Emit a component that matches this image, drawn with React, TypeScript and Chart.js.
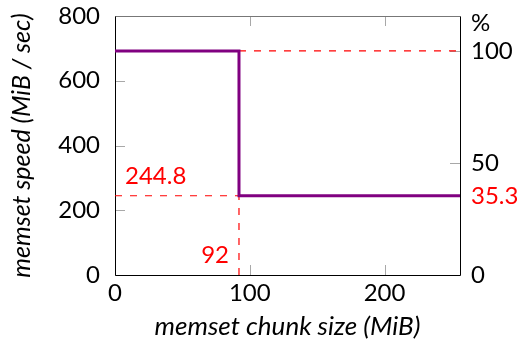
import React, { useEffect, useRef } from "react";
import { Chart, registerables } from "chart.js";

Chart.register(...registerables);

// ---- data ----
const chunkSizes = [0, 92, 92, 256]; // MiB
const speeds = [692, 692, 244.8, 244.8]; // MiB/sec
const xTicks = [0, 100, 200];
const yTicks = [0, 200, 400, 600, 800];
const pctTicks = [0, 35.3, 50, 100];
const xMax = 256;
const yMax = 800;
const fullSpeed = 692;
const dropSize = 92;
const slowSpeed = 244.8;
const slowPct = 35.3;
const dropLabel = "92";
const slowLabel = "244.8";

const FONT = "Lato, 'Open Sans', sans-serif";
const RED = "#ff0000";
const PURPLE = "#800080";

const noPad = (s: any) => {
  s.paddingTop = 0;
  s.paddingBottom = 0;
  s.paddingLeft = 0;
  s.paddingRight = 0;
};

const decor = {
  id: "decor",
  beforeDatasetsDraw(chart: any) {
    const { ctx, chartArea: a, scales } = chart;
    const L = 10;
    ctx.save();
    ctx.lineWidth = 1;
    ctx.strokeStyle = "#a8a8a8";
    const seg = (x1: number, y1: number, x2: number, y2: number) => {
      ctx.beginPath();
      ctx.moveTo(x1, y1);
      ctx.lineTo(x2, y2);
      ctx.stroke();
    };
    for (const v of xTicks) {
      const px = Math.round(scales.x.getPixelForValue(v)) + 0.5;
      seg(px, a.bottom, px, a.bottom - L);
      seg(px, a.top, px, a.top + L);
    }
    for (const v of yTicks) {
      const py = Math.round(scales.y.getPixelForValue(v)) + 0.5;
      seg(a.left, py, a.left + L, py);
    }
    for (const v of pctTicks) {
      const py = Math.round(scales.y2.getPixelForValue(v)) + 0.5;
      seg(a.right, py, a.right - L, py);
    }
    const l = Math.round(a.left) + 0.5;
    const r = Math.round(a.right) + 0.5;
    const t = Math.round(a.top) + 0.5;
    const b = Math.round(a.bottom) + 0.5;
    ctx.strokeStyle = "#777777";
    seg(l, t, r, t);
    ctx.strokeStyle = "#000000";
    seg(l, t, l, b);
    seg(l, b, r, b);
    seg(r, t, r, b);
    ctx.restore();
  },
  afterDraw(chart: any) {
    const { ctx, chartArea: a, scales } = chart;
    ctx.save();
    ctx.font = `24px ${FONT}`;
    ctx.fillStyle = "#000";
    ctx.textAlign = "left";
    ctx.textBaseline = "middle";
    ctx.fillText("%", a.right + 11, a.top + 7);
    ctx.fillStyle = RED;
    ctx.textBaseline = "alphabetic";
    ctx.fillText(
      slowLabel,
      scales.x.getPixelForValue(0) + 10,
      scales.y.getPixelForValue(slowSpeed) - 12
    );
    ctx.textAlign = "right";
    ctx.textBaseline = "middle";
    ctx.fillText(
      dropLabel,
      scales.x.getPixelForValue(dropSize) - 10,
      scales.y.getPixelForValue(0) - 20
    );
    ctx.restore();
  },
};

export default function App() {
  const ref = useRef<HTMLCanvasElement | null>(null);
  useEffect(() => {
    document.body.style.margin = "0";
    const canvas = ref.current!;
    const dashed = (pts: { x: number; y: number }[]) => ({
      data: pts,
      borderColor: RED,
      backgroundColor: RED,
      borderWidth: 1.2,
      borderDash: [7, 8],
      pointRadius: 0,
      fill: false,
      order: 1,
      yAxisID: "y",
    });
    const chart = new Chart(canvas, {
      type: "line",
      data: {
        datasets: [
          {
            data: chunkSizes.map((x, i) => ({ x, y: speeds[i] })),
            borderColor: PURPLE,
            backgroundColor: PURPLE,
            borderWidth: 3,
            pointRadius: 0,
            fill: false,
            tension: 0,
            order: 0,
            yAxisID: "y",
            borderCapStyle: "butt",
            borderJoinStyle: "miter",
          },
          dashed([
            { x: 0, y: slowSpeed },
            { x: dropSize, y: slowSpeed },
          ]),
          dashed([
            { x: dropSize, y: 0 },
            { x: dropSize, y: slowSpeed },
          ]),
          dashed([
            { x: dropSize, y: fullSpeed },
            { x: xMax, y: fullSpeed },
          ]),
        ] as any,
      },
      options: {
        responsive: false,
        animation: false,
        devicePixelRatio: 1,
        layout: { padding: { top: 16, left: 0, right: 0, bottom: 0 } },
        plugins: { legend: { display: false }, tooltip: { enabled: false } },
        scales: {
          x: {
            type: "linear",
            min: 0,
            max: xMax,
            grid: { display: false, drawTicks: false },
            border: { display: false },
            afterBuildTicks: (s: any) => {
              s.ticks = xTicks.map((v) => ({ value: v }));
            },
            afterFit: (s: any) => {
              s.height = 74;
              noPad(s);
            },
            ticks: {
              color: "#000",
              padding: 4,
              maxRotation: 0,
              font: { family: FONT, size: 24 },
            },
            title: {
              display: true,
              text: "memset chunk size (MiB)",
              color: "#000",
              padding: { top: 0, bottom: 7 },
              font: { family: FONT, size: 26, style: "italic" },
            },
          },
          y: {
            type: "linear",
            position: "left",
            min: 0,
            max: yMax,
            grid: { display: false, drawTicks: false },
            border: { display: false },
            afterBuildTicks: (s: any) => {
              s.ticks = yTicks.map((v) => ({ value: v }));
            },
            afterFit: (s: any) => {
              s.width = 115;
              noPad(s);
            },
            ticks: {
              color: "#000",
              padding: 15,
              font: { family: FONT, size: 24 },
            },
            title: {
              display: true,
              text: "memset speed (MiB / sec)",
              color: "#000",
              padding: { top: 7, bottom: 0 },
              font: { family: FONT, size: 25, style: "italic" },
            },
          },
          y2: {
            type: "linear",
            position: "right",
            min: 0,
            max: (yMax / fullSpeed) * 100,
            grid: { display: false, drawTicks: false },
            border: { display: false },
            afterBuildTicks: (s: any) => {
              s.ticks = pctTicks.map((v) => ({ value: v }));
            },
            afterFit: (s: any) => {
              s.width = 57;
              noPad(s);
            },
            ticks: {
              padding: 11,
              font: { family: FONT, size: 24 },
              color: (c: any) => (c.tick && c.tick.value === slowPct ? RED : "#000"),
              callback: (v: any) => String(v),
            },
          },
        },
      } as any,
      plugins: [decor],
    });
    return () => chart.destroy();
  }, []);
  return (
    <div style={{ position: "absolute", left: 0, top: 0, width: 517, height: 349 }}>
      <canvas ref={ref} width={517} height={349} />
    </div>
  );
}
